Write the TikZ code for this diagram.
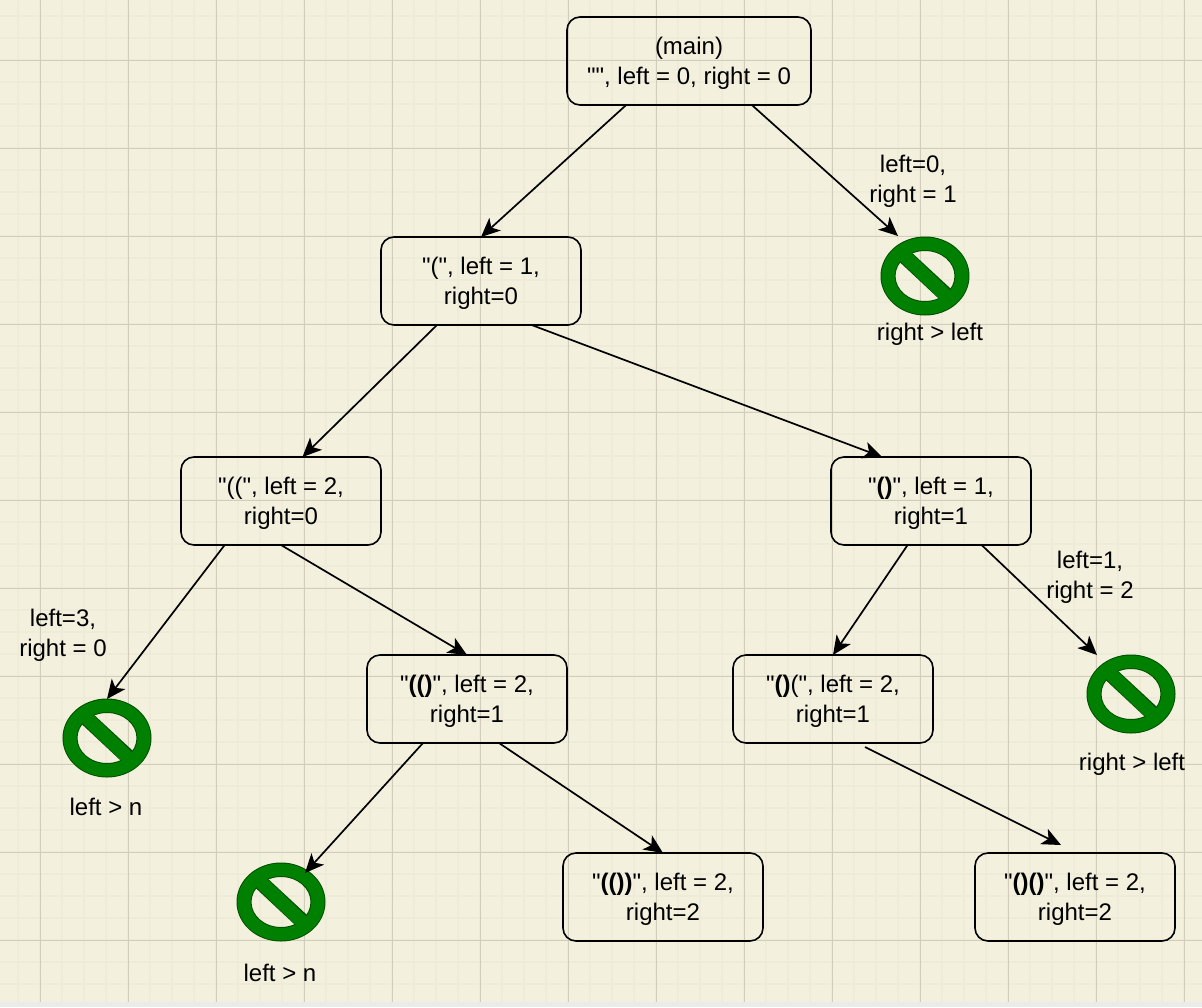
\documentclass[tikz,border=0pt]{standalone}
\usepackage{fontspec}
\newfontfamily\labelfont{Liberation Sans}
\usetikzlibrary{arrows.meta,shapes.geometric}

\definecolor{paper}{RGB}{243,240,221}
\definecolor{minorline}{RGB}{238,236,217}
\definecolor{majorline}{RGB}{209,205,186}
\definecolor{signfill}{RGB}{0,128,0}
\definecolor{signline}{RGB}{0,80,0}

% pushes a two line text down inside its box
\newcommand{\lowerstrut}{\rule{0pt}{22pt}}

\tikzset{
  callbox/.style={draw=black,line width=1.6pt,rounded corners=13pt,minimum width=200pt,minimum height=88pt,
    inner sep=0pt,outer sep=0pt,align=center,font=\labelfont\fontsize{24}{30}\selectfont},
  tag/.style={inner sep=0pt,outer sep=0pt,align=center,text=black,font=\labelfont\fontsize{24}{30}\selectfont},
  call/.style={draw=black,line width=1.7pt,-{Stealth[length=19pt,width=17pt,inset=5pt]}},
  nosign/.pic={
    \node[ellipse,minimum width=88pt,minimum height=78pt,inner sep=0pt,outer sep=0pt] (-ring) {};
    \draw[signline,line width=2pt,even odd rule] (0,0) ellipse (43.5 and 38.5) (0,0) ellipse (30.5 and 26);
    \draw[signline,line width=2pt] (-25,-15) -- (-15.7,-24.3) -- (26.7,15) -- (16.7,24) -- cycle;
    \fill[signfill,even odd rule] (0,0) ellipse (43.5 and 38.5) (0,0) ellipse (30.5 and 26);
    \fill[signfill] (-29,-19) -- (-19,-28) -- (30,19) -- (20,28) -- cycle;
  }
}

\begin{document}
\begin{tikzpicture}[x=1pt,y=-1pt]
\useasboundingbox (0,0) rectangle (1202,1007);

% The paper
\fill[color=black!8] (0,0) rectangle (1202,1007);
\fill[color=paper] (0,0) rectangle (1202,1002);

% The grid
\foreach \gx in {18,40,...,1202} {\draw[color=minorline,line width=1.6pt] (\gx,0) -- (\gx,1002);}
\foreach \gy in {16,38,...,1002} {\draw[color=minorline,line width=1.6pt] (0,\gy) -- (1202,\gy);}
\foreach \gx in {40.5,128.5,...,1202} {\draw[color=majorline,line width=1pt] (\gx,0) -- (\gx,1002);}
\foreach \gy in {60.5,148.5,...,1002} {\draw[color=majorline,line width=1pt] (0,\gy) -- (1202,\gy);}

% The calls
\node[callbox,minimum width=244pt] (main) at (689,61) {\lowerstrut(main)\\"", left = 0, right = 0};
\node[callbox] (open) at (481,281) {\lowerstrut"(", left = 1,\\right=0};
\node[callbox] (openopen) at (281,501) {\lowerstrut"((", left = 2,\\right=0};
\node[callbox] (pair) at (931,501) {\lowerstrut"\textbf{()}", left = 1,\\right=1};
\node[callbox] (nested) at (467,699) {\lowerstrut"\textbf{(()}", left = 2,\\right=1};
\node[callbox] (pairopen) at (833,699) {\lowerstrut"\textbf{()}(", left = 2,\\right=1};
\node[callbox] (nestedend) at (663,897) {\lowerstrut"\textbf{(())}", left = 2,\\right=2};
\node[callbox] (pairend) at (1075,897) {\lowerstrut"\textbf{()()}", left = 2,\\right=2};

% The pruned calls
\pic (stopa) at (925,276) {nosign};
\pic (stopb) at (1131,694) {nosign};
\pic (stopc) at (107,738) {nosign};
\pic (stopd) at (281,902) {nosign};

% The labels
\node[tag] (tagaa) at (913,181) {left=0,\\right = 1};
\node[tag] (tagab) at (930,334) {right > left};
\node[tag] (tagba) at (1090,577) {left=1,\\right = 2};
\node[tag] (tagbb) at (1132,764) {right > left};
\node[tag] (tagca) at (63,635) {left=3,\\right = 0};
\node[tag] (tagcb) at (106,807) {left > n};
\node[tag] (tagdb) at (280,973) {left > n};

% The free ends
\coordinate (gapfrom) at (865,747);
\coordinate (gapto) at (1061,845);
\coordinate (stopain) at (898,236);
\coordinate (stopbin) at (1097,655);
\coordinate (stopdin) at (305,873);

% The connectors
\draw[call] (main.215.4) -- (open.north);
\draw[call] (main.-35.8) -- (stopain);
\draw[call] (open.225) -- (openopen.64.5);
\draw[call] (open.-41.3) -- (pair.138.7);
\draw[call] (openopen.218.2) -- (stopc-ring.north);
\draw[call] (openopen.south) -- (nested.north);
\draw[call] (pair.-118.6) -- (pairopen.north);
\draw[call] (pair.-41.3) -- (stopbin);
\draw[call] (nested.-135) -- (stopdin);
\draw[call] (nested.-54) -- (nestedend.north);
\draw[call] (gapfrom) -- (gapto);

\end{tikzpicture}
\end{document}
